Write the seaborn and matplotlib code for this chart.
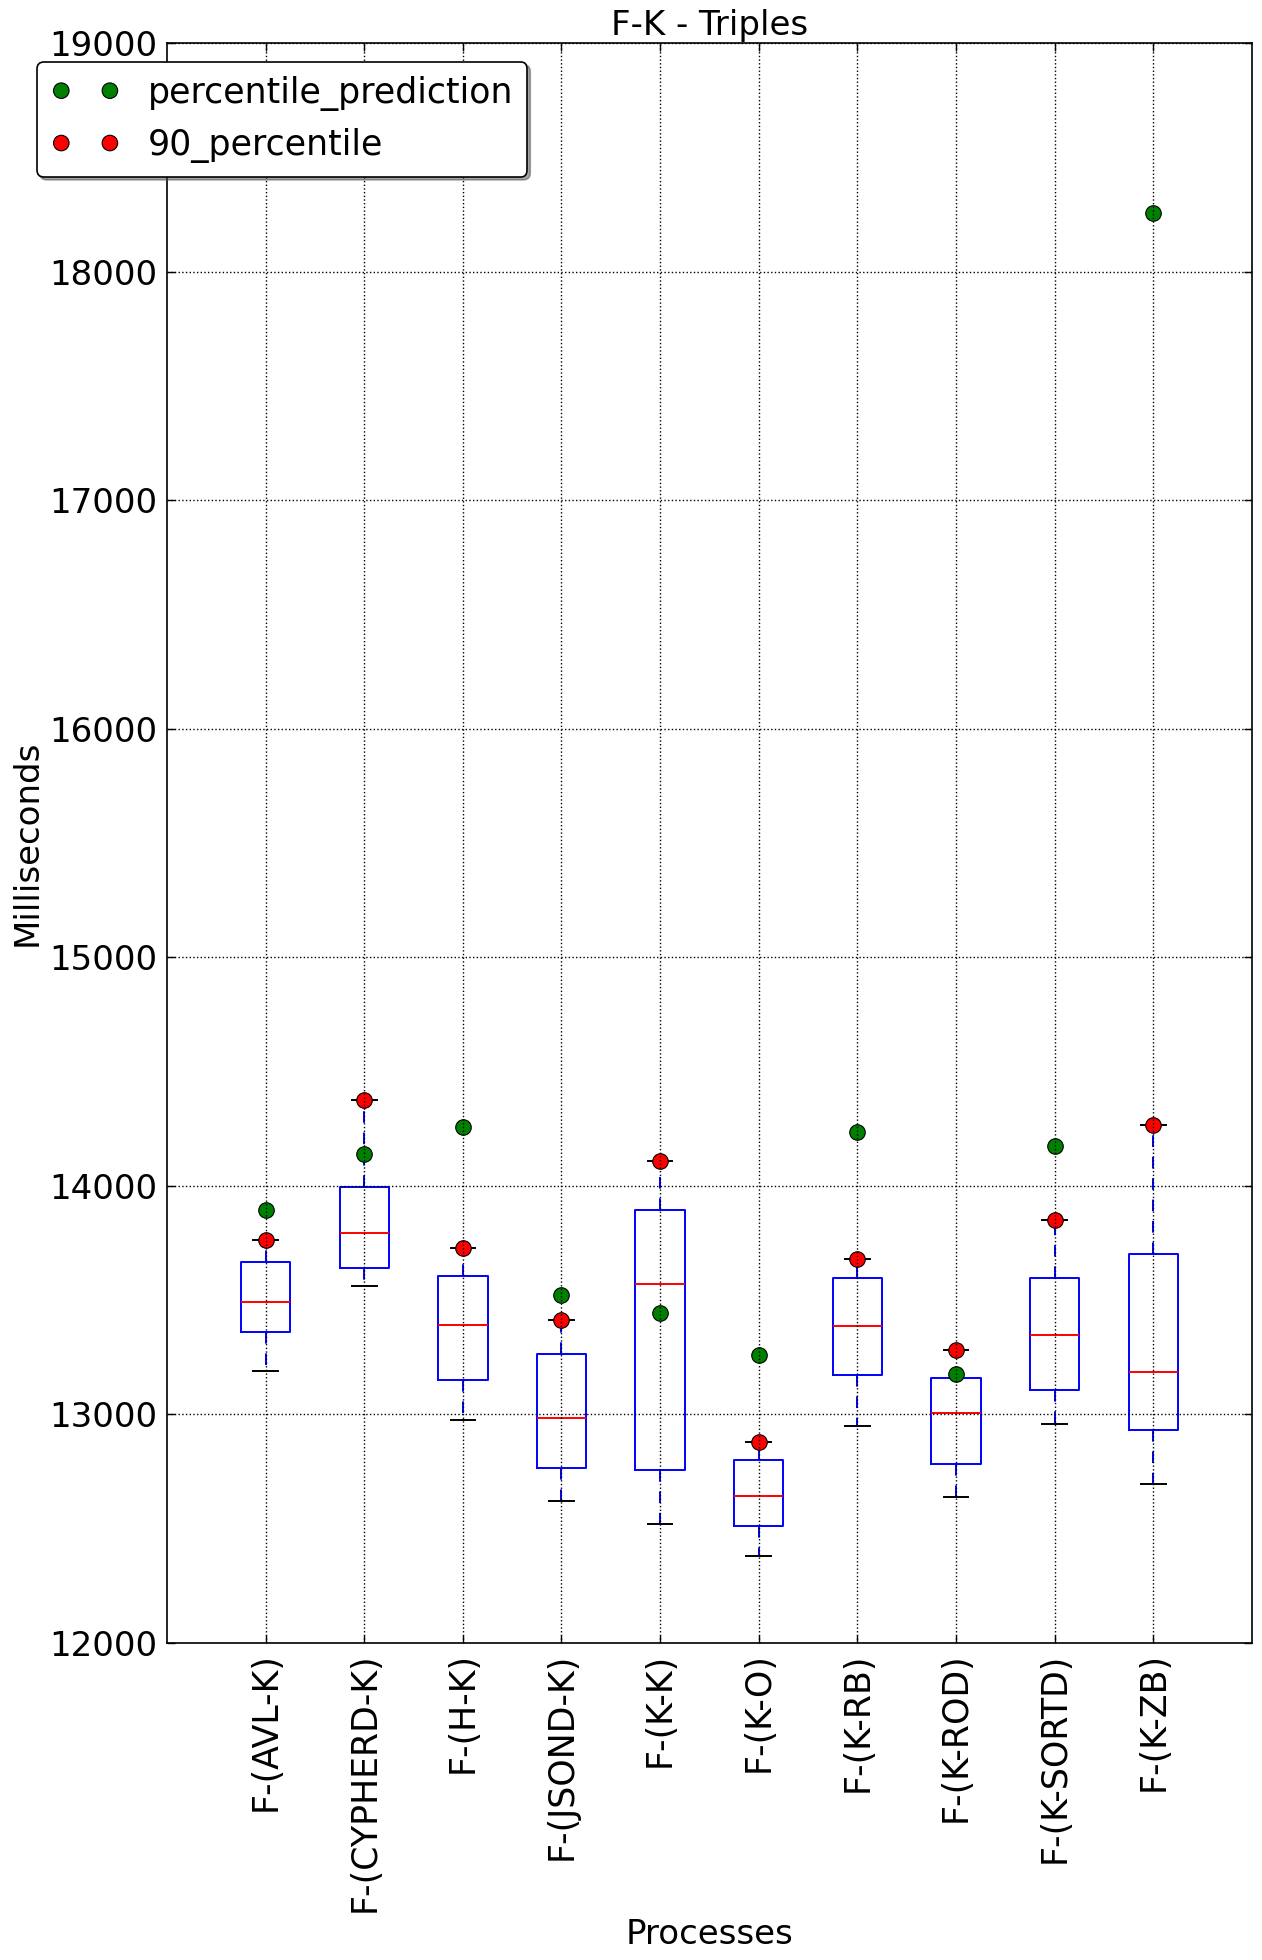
import matplotlib
matplotlib.use("Agg")
import matplotlib.pyplot as plt
import numpy as np
import pandas as pd
import seaborn as sns

processes = ["F-(AVL-K)", "F-(CYPHERD-K)", "F-(H-K)", "F-(JSOND-K)", "F-(K-K)",
             "F-(K-O)", "F-(K-RB)", "F-(K-ROD)", "F-(K-SORTD)", "F-(K-ZB)"]
whisker_low = [13188, 13563, 12975, 12619, 12518, 12378, 12948, 12638, 12956, 12694]
q1 = [13358, 13638, 13148, 12765, 12755, 12509, 13172, 12782, 13105, 12932]
median = [13493, 13795, 13389, 12982, 13568, 12640, 13384, 13004, 13345, 13183]
q3 = [13665, 13993, 13607, 13262, 13892, 12798, 13594, 13157, 13594, 13703]
whisker_high = [13764, 14376, 13729, 13414, 14107, 12878, 13681, 13281, 13852, 14265]
percentile_prediction = [13895, 14140, 14258, 13520, 13444, 13258, 14237, 13176, 14175, 18256]
percentile_90 = [13764, 14376, 13729, 13414, 14107, 12878, 13681, 13281, 13852, 14265]
y_ticks = [12000, 13000, 14000, 15000, 16000, 17000, 18000, 19000]

plt.rcParams["font.family"] = ["DejaVu Sans"]
plt.rcParams["font.size"] = 24

rows = []
for i, p in enumerate(processes):
    for v in (whisker_low[i], q1[i], median[i], q3[i], whisker_high[i]):
        rows.append({"process": p, "ms": v})
df = pd.DataFrame(rows)

fig = plt.figure(figsize=(12.62, 19.6), dpi=100, facecolor="white")
ax = fig.add_axes([0.1323, 0.1619, 0.8597, 0.816])

sns.boxplot(data=df, x="process", y="ms", order=processes, ax=ax,
            width=0.5, fill=False, color="blue", whis=(0, 100),
            showfliers=False, linewidth=1.4,
            boxprops=dict(color="blue"),
            medianprops=dict(color="red"),
            whiskerprops=dict(color="blue", linestyle=(0, (6, 5))),
            capprops=dict(color="black"))

sns.scatterplot(x=processes, y=percentile_prediction, ax=ax, color="green",
                s=125, edgecolor="black", linewidth=0.8,
                label="percentile_prediction", zorder=2)
sns.scatterplot(x=processes, y=percentile_90, ax=ax, color="red",
                s=125, edgecolor="black", linewidth=0.8,
                label="90_percentile", zorder=2)

ax.set_xlim(-1, len(processes))
ax.set_ylim(12000, 19000)
ax.set_yticks(y_ticks)
ax.set_yticklabels([str(t) for t in y_ticks])
ax.set_axisbelow(False)
ax.grid(True, which="major", axis="both", color="black", linestyle=":", linewidth=1)
ax.tick_params(direction="in", top=True, right=True, length=6, width=1,
               labelsize=24.5, pad=7)
ax.tick_params(axis="x", labelrotation=90, labelsize=25)
for s in ax.spines.values():
    s.set_color("black")
    s.set_linewidth(1.2)
ax.set_title("F-K - Triples", fontsize=24.5, pad=6)
ax.set_xlabel("Processes", fontsize=24.5)
ax.set_ylabel("Milliseconds", fontsize=24.5)

leg = ax.legend(loc="upper left", bbox_to_anchor=(0.0293, 0.9684),
                bbox_transform=fig.transFigure, borderaxespad=0,
                scatterpoints=2, scatteryoffsets=[0.5], fontsize=25,
                fancybox=True, shadow=True, framealpha=1,
                handlelength=2.0, handletextpad=0.8, borderpad=0.4,
                labelspacing=0.5)
leg.get_frame().set_edgecolor("black")
leg.get_frame().set_linewidth(1.2)

fig.savefig("out.png", dpi=100, facecolor="white")
